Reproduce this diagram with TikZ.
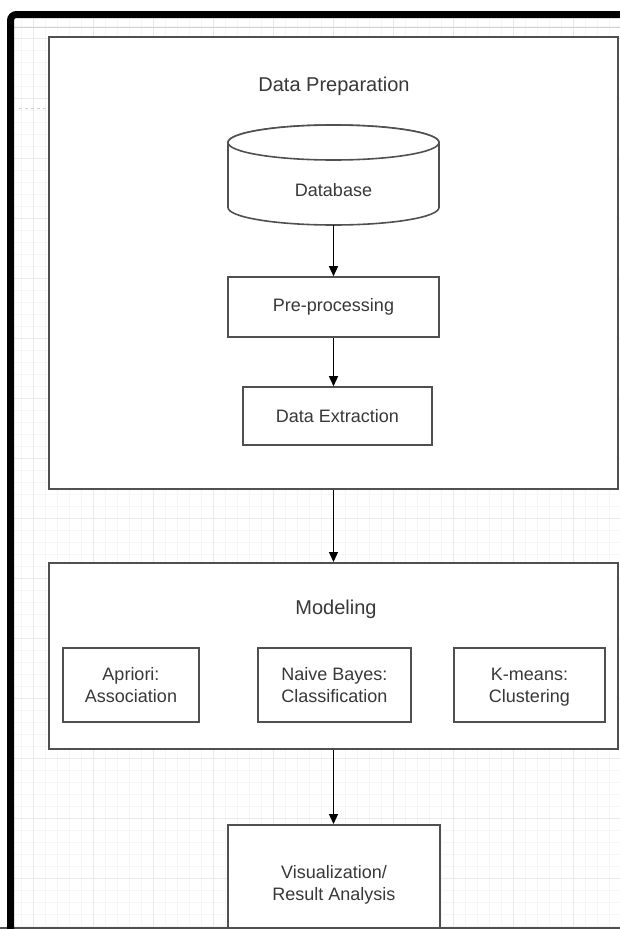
\documentclass[tikz,border=0pt]{standalone}
\usepackage{fontspec}
\setmainfont{Liberation Sans}
\usetikzlibrary{arrows.meta}
\definecolor{boxc}{HTML}{505050}
\definecolor{txt}{HTML}{383838}
\definecolor{gridminor}{HTML}{F6F6F6}
\definecolor{gridmajor}{HTML}{EAEAEA}
\begin{document}
\begin{tikzpicture}[x=1pt,y=-1pt,
  box/.style={draw=boxc, line width=1.6pt, fill=white},
  lbl/.style={text=txt, font=\fontsize{18}{22}\selectfont, align=center},
  ttl/.style={text=txt, font=\fontsize{20}{24}\selectfont},
  arr/.style={-{Triangle[length=10pt,width=9pt]}, line width=1.3pt, black}]
\useasboundingbox (0,0) rectangle (620,929);
\fill[white] (0,0) rectangle (620,929);
% background grid
\begin{scope}
  \clip (14,18) rectangle (620,929);
  \foreach \x in {21,33,...,620} \draw[gridminor,line width=0.6pt] (\x,18) -- (\x,929);
  \foreach \y in {26,38,...,929} \draw[gridminor,line width=0.6pt] (14,\y) -- (620,\y);
  \foreach \x in {33,93,...,620} \draw[gridmajor,line width=0.8pt] (\x,18) -- (\x,929);
  \foreach \y in {38,98,...,929} \draw[gridmajor,line width=0.8pt] (14,\y) -- (620,\y);
\end{scope}
\draw[gray!35,line width=1pt] (14,27) -- (620,27);
\draw[gray!40,dashed,line width=0.8pt] (19,108) -- (46,108);
% Data preparation container
\node[box, anchor=north west, minimum width=569pt, minimum height=452pt, inner sep=0pt] (prep) at (48,36) {};
\node[ttl] (prept) at (334,86) {Data Preparation};
% database cylinder
\node[minimum width=211pt, minimum height=100pt, inner sep=0pt] (db) at (333.5,175) {};
\filldraw[box] (228,142.5) -- (228,207.5)
  arc[start angle=180,end angle=360,x radius=105.5pt,y radius=17.5pt]
  -- (439,142.5)
  arc[start angle=0,end angle=180,x radius=105.5pt,y radius=17.5pt] -- cycle;
\draw[box] (333.5,142.5) ellipse [x radius=105.5pt, y radius=17.5pt];
\node[lbl] (dbl) at (333.5,190) {Database};
\node[box, lbl, minimum width=211pt, minimum height=60pt, inner sep=0pt] (pre) at (333.5,307) {Pre-processing};
\node[box, lbl, minimum width=189pt, minimum height=58pt, inner sep=0pt] (ext) at (337.5,416) {Data Extraction};
% Modeling container
\node[box, anchor=north west, minimum width=569pt, minimum height=186pt, inner sep=0pt] (mod) at (48,562) {};
\node[ttl] (modt) at (336,609) {Modeling};
\node[box, lbl, minimum width=136pt, minimum height=74pt, inner sep=0pt] (apr) at (131,685) {Apriori:\\Association};
\node[box, lbl, minimum width=153pt, minimum height=74pt, inner sep=0pt] (nb) at (334.5,685) {Naive Bayes:\\Classification};
\node[box, lbl, minimum width=151pt, minimum height=74pt, inner sep=0pt] (km) at (529.5,685) {K-means:\\\smash{Clustering}};
% Visualization
\node[box, minimum width=212pt, minimum height=120pt, inner sep=0pt, anchor=north] (vis) at (334,824) {};
\node[lbl] (vist) at (334,882.5) {Visualization/\\\smash{Result Analysis}};
% connectors
\draw[arr] (db.south) -- (pre.north);
\draw[arr] (pre.south) -- (pre.south |- ext.north);
\draw[arr] (db.south |- prep.south) -- (db.south |- mod.north);
\draw[arr] (db.south |- mod.south) -- (db.south |- vis.north);
% bottom edge and frame
\draw[boxc,line width=1.6pt] (0,928.2) -- (620,928.2);
\draw[black,line width=7pt,rounded corners=6pt] (10.5,940) -- (10.5,14.5) -- (630,14.5);
\end{tikzpicture}
\end{document}
